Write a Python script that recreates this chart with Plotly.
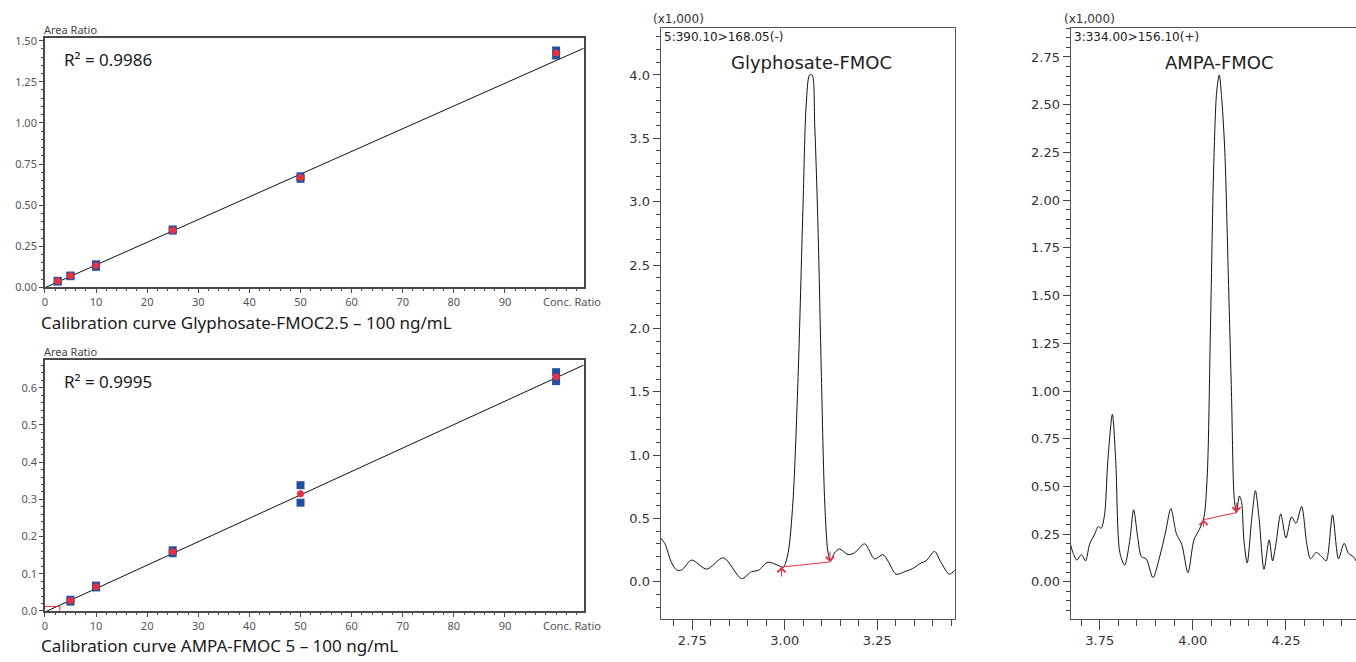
import plotly.graph_objects as go

W, H = 1356, 662

# ---------------- Calibration data ----------------
glyph_conc = [2.5, 5, 10, 25, 50, 100]
glyph_rep1 = [0.035, 0.068, 0.140, 0.352, 0.675, 1.440]
glyph_rep2 = [0.040, 0.072, 0.125, 0.345, 0.660, 1.410]
glyph_mean = [0.038, 0.070, 0.133, 0.348, 0.668, 1.425]
glyph_fit = [0.01381, -0.002]          # slope, intercept
glyph_r2 = "R² = 0.9986"
glyph_title = "Calibration curve Glyphosate-FMOC2.5 – 100 ng/mL"

ampa_conc = [5, 10, 25, 50, 100]
ampa_rep1 = [0.030, 0.068, 0.163, 0.338, 0.642]
ampa_rep2 = [0.025, 0.063, 0.155, 0.291, 0.618]
ampa_mean = [0.028, 0.065, 0.159, 0.315, 0.630]
ampa_fit = [0.0063, -0.003]
ampa_r2 = "R² = 0.9995"
ampa_title = "Calibration curve AMPA-FMOC 5 – 100 ng/mL"
ampa_loq_x = [0, 2.9, 2.9]
ampa_loq_y = [0.012, 0.012, 0.0]

conc_ticks = [0, 10, 20, 30, 40, 50, 60, 70, 80, 90]
conc_max = 105.4

# ---------------- Chromatogram data (x1,000) ----------------
gly_t = [2.664, 2.676, 2.694, 2.708, 2.721, 2.748, 2.789, 2.834, 2.883, 2.910,
         2.928, 2.955, 2.982, 2.996, 3.009, 3.022, 3.036, 3.049, 3.058, 3.067,
         3.074, 3.081, 3.090, 3.099, 3.108, 3.117, 3.124, 3.135, 3.148, 3.171,
         3.189, 3.216, 3.243, 3.265, 3.279, 3.301, 3.324, 3.346, 3.369, 3.382,
         3.405, 3.423, 3.445, 3.460]
gly_i = [0.347, 0.300, 0.149, 0.093, 0.093, 0.172, 0.100, 0.190, 0.026, 0.080,
         0.090, 0.155, 0.130, 0.115, 0.230, 0.630, 1.620, 2.940, 3.770, 4.000,
         4.000, 3.600, 2.780, 1.620, 0.630, 0.230, 0.165, 0.230, 0.260, 0.215,
         0.230, 0.300, 0.180, 0.215, 0.165, 0.060, 0.080, 0.105, 0.150, 0.165,
         0.240, 0.150, 0.060, 0.093]
gly_base_t = [2.991, 3.122]
gly_base_i = [0.117, 0.157]
gly_arrow_tail = [0.030, 0.250]

ampa_t = [3.669, 3.678, 3.689, 3.701, 3.712, 3.723, 3.737, 3.746, 3.754, 3.763,
          3.772, 3.784, 3.793, 3.804, 3.817, 3.831, 3.841, 3.853, 3.862, 3.875,
          3.893, 3.911, 3.927, 3.941, 3.956, 3.970, 3.987, 4.003, 4.019, 4.030,
          4.039, 4.047, 4.056, 4.064, 4.071, 4.078, 4.086, 4.095, 4.104, 4.111,
          4.117, 4.125, 4.131, 4.137, 4.146, 4.158, 4.168, 4.178, 4.191, 4.205,
          4.214, 4.223, 4.236, 4.250, 4.265, 4.277, 4.292, 4.306, 4.316, 4.331,
          4.346, 4.358, 4.375, 4.391, 4.406, 4.418, 4.431, 4.438]
ampa_i = [0.220, 0.154, 0.114, 0.143, 0.110, 0.198, 0.252, 0.290, 0.281, 0.351,
          0.637, 0.878, 0.637, 0.154, 0.088, 0.220, 0.378, 0.220, 0.132, 0.121,
          0.022, 0.132, 0.263, 0.384, 0.252, 0.198, 0.048, 0.220, 0.281, 0.340,
          0.571, 1.295, 2.173, 2.568, 2.656, 2.520, 2.250, 1.624, 0.966, 0.439,
          0.362, 0.450, 0.417, 0.220, 0.099, 0.329, 0.478, 0.329, 0.066, 0.220,
          0.110, 0.198, 0.356, 0.230, 0.340, 0.307, 0.395, 0.198, 0.121, 0.154,
          0.132, 0.110, 0.351, 0.121, 0.202, 0.149, 0.132, 0.110]
ampa_base_t = [4.029, 4.117]
ampa_base_i = [0.326, 0.363]
ampa_arrow_tail = [0.279, 0.423]


def px(x):
    return x / W


def py(y):
    return 1 - y / H


BLUE = "#2350a0"
RED = "#e8303f"
CAL_FONT = "Noto Sans"
CHR_FONT = "DejaVu Sans"

fig = go.Figure()


def add_cal(xa, ya, conc, r1, r2, mean, fit):
    fig.add_trace(go.Scatter(x=[0, conc_max], y=[fit[1], fit[0] * conc_max + fit[1]],
                             mode="lines", line=dict(color="#111", width=1),
                             xaxis=xa, yaxis=ya, showlegend=False))
    fig.add_trace(go.Scatter(x=conc + conc, y=r1 + r2, mode="markers",
                             marker=dict(symbol="square", size=8, color=BLUE),
                             xaxis=xa, yaxis=ya, showlegend=False, cliponaxis=False))
    fig.add_trace(go.Scatter(x=conc, y=mean, mode="markers",
                             marker=dict(symbol="circle", size=7, color=RED),
                             xaxis=xa, yaxis=ya, showlegend=False, cliponaxis=False))


add_cal("x", "y", glyph_conc, glyph_rep1, glyph_rep2, glyph_mean, glyph_fit)
add_cal("x2", "y2", ampa_conc, ampa_rep1, ampa_rep2, ampa_mean, ampa_fit)
fig.add_trace(go.Scatter(x=ampa_loq_x, y=ampa_loq_y, mode="lines",
                         line=dict(color=RED, width=1), xaxis="x2", yaxis="y2",
                         showlegend=False))

# chromatograms
fig.add_trace(go.Scatter(x=gly_t, y=gly_i, mode="lines",
                         line=dict(color="#111", width=1, shape="spline", smoothing=0.8),
                         xaxis="x3", yaxis="y3", showlegend=False))
fig.add_trace(go.Scatter(x=gly_base_t, y=gly_base_i, mode="lines",
                         line=dict(color=RED, width=1), xaxis="x3", yaxis="y3",
                         showlegend=False))
fig.add_trace(go.Scatter(x=ampa_t, y=ampa_i, mode="lines",
                         line=dict(color="#111", width=1, shape="spline", smoothing=0.8),
                         xaxis="x4", yaxis="y4", showlegend=False))
fig.add_trace(go.Scatter(x=ampa_base_t, y=ampa_base_i, mode="lines",
                         line=dict(color=RED, width=1), xaxis="x4", yaxis="y4",
                         showlegend=False))

cal_x_dom = [px(42), px(582)]
cal_axis_common = dict(showgrid=False, zeroline=False, showline=True, mirror=True,
                       linecolor="#4a4a4a", linewidth=1.5, ticks="outside", ticklen=4,
                       tickcolor="#4a4a4a", tickwidth=1,
                       tickfont=dict(family=CAL_FONT, size=11, color="#555"))


def cal_x(anchor):
    d = dict(cal_axis_common)
    d.update(domain=cal_x_dom, anchor=anchor, range=[0, conc_max],
             tickvals=conc_ticks,
             minor=dict(dtick=2, tick0=0, ticks="outside", ticklen=2, tickcolor="#4a4a4a"))
    return d


def cal_y(anchor, dom, rng, dtick, minor, fmt):
    d = dict(cal_axis_common)
    d.update(domain=dom, anchor=anchor, range=rng, dtick=dtick, tick0=0,
             tickformat=fmt,
             minor=dict(dtick=minor, tick0=0, ticks="outside", ticklen=2, tickcolor="#4a4a4a"))
    return d


chr_common = dict(showgrid=False, zeroline=False, showline=True, linecolor="#555",
                  linewidth=1, ticks="outside", tickcolor="#444", tickwidth=1,
                  tickfont=dict(family=CHR_FONT, size=13, color="#333"))

chr_y_dom = [py(625), py(22)]

x3 = dict(chr_common)
x3.update(domain=[px(659), px(954)], anchor="y3", range=[2.664, 3.460], dtick=0.25,
          tick0=2.75, tickformat=".2f", ticklen=10, mirror=True,
          minor=dict(dtick=0.05, tick0=2.75, ticks="outside", ticklen=6, tickcolor="#444"))
y3 = dict(chr_common)
y3.update(domain=chr_y_dom, anchor="x3", range=[-0.291, 4.374], dtick=0.5, tick0=0,
          tickformat=".1f", ticklen=7, mirror=True,
          minor=dict(dtick=0.1, tick0=0, ticks="outside", ticklen=4, tickcolor="#444"))
x4 = dict(chr_common)
x4.update(domain=[px(1070), 1.0], anchor="y4", range=[3.672, 4.438], dtick=0.25,
          tick0=3.75, tickformat=".2f", ticklen=10, mirror=True,
          minor=dict(dtick=0.05, tick0=3.75, ticks="outside", ticklen=6, tickcolor="#444"))
y4 = dict(chr_common)
y4.update(domain=chr_y_dom, anchor="x4", range=[-0.193, 2.904], dtick=0.25, tick0=0,
          tickformat=".2f", ticklen=7, mirror=False,
          minor=dict(dtick=0.05, tick0=0, ticks="outside", ticklen=4, tickcolor="#444"))

fig.update_layout(
    width=W, height=H, margin=dict(l=0, r=0, t=0, b=0),
    paper_bgcolor="white", plot_bgcolor="white",
    xaxis=cal_x("y"),
    yaxis=cal_y("x", [py(287), py(33)], [0, 1.514], 0.25, 0.05, ".2f"),
    xaxis2=cal_x("y2"),
    yaxis2=cal_y("x2", [py(617), py(361)], [0, 0.675], 0.1, 0.02, ".1f"),
    xaxis3=x3, yaxis3=y3, xaxis4=x4, yaxis4=y4,
)

ann = []


def text(x, y, s, size, family, color="#222", xanchor="left"):
    ann.append(dict(x=px(x), y=py(y), xref="paper", yref="paper", text=s,
                    showarrow=False, xanchor=xanchor, yanchor="middle",
                    font=dict(family=family, size=size, color=color)))


# calibration texts
text(39, 24, "Area Ratio", 11, CAL_FONT, "#444")
text(39, 352, "Area Ratio", 11, CAL_FONT, "#444")
text(59, 55, glyph_r2, 17, CAL_FONT, "#1a1a1a")
text(59, 383, ampa_r2, 17, CAL_FONT, "#1a1a1a")
text(570, 301, "Conc. Ratio", 11, CAL_FONT, "#555", "center")
text(570, 632, "Conc. Ratio", 11, CAL_FONT, "#555", "center")
text(36, 323, glyph_title, 17, CAL_FONT, "#1a1a1a")
text(36, 652, ampa_title, 17, CAL_FONT, "#1a1a1a")

# chromatogram texts
text(649, 13, "(x1,000)", 12, CHR_FONT, "#333")
text(660, 32, "5:390.10>168.05(-)", 12, CHR_FONT, "#222")
text(810, 58, "Glyphosate-FMOC", 18, CHR_FONT, "#222", "center")
text(1061, 13, "(x1,000)", 12, CHR_FONT, "#333")
text(1071, 32, "3:334.00>156.10(+)", 12, CHR_FONT, "#222")
text(1219, 58, "AMPA-FMOC", 18, CHR_FONT, "#222", "center")

# integration arrows
for xa, ya, tt, ii, tails in [("x3", "y3", gly_base_t, gly_base_i, gly_arrow_tail),
                               ("x4", "y4", ampa_base_t, ampa_base_i, ampa_arrow_tail)]:
    for t, i, tail in zip(tt, ii, tails):
        ann.append(dict(x=t, y=i, xref=xa, yref=ya, ax=t, ay=tail, axref=xa, ayref=ya,
                        text="", showarrow=True, arrowhead=4, arrowsize=1.6,
                        arrowwidth=1, arrowcolor=RED))

fig.update_layout(annotations=ann)
fig.write_html("out.html", config={"displayModeBar": False},
               post_script="document.body.style.margin='0px';")
